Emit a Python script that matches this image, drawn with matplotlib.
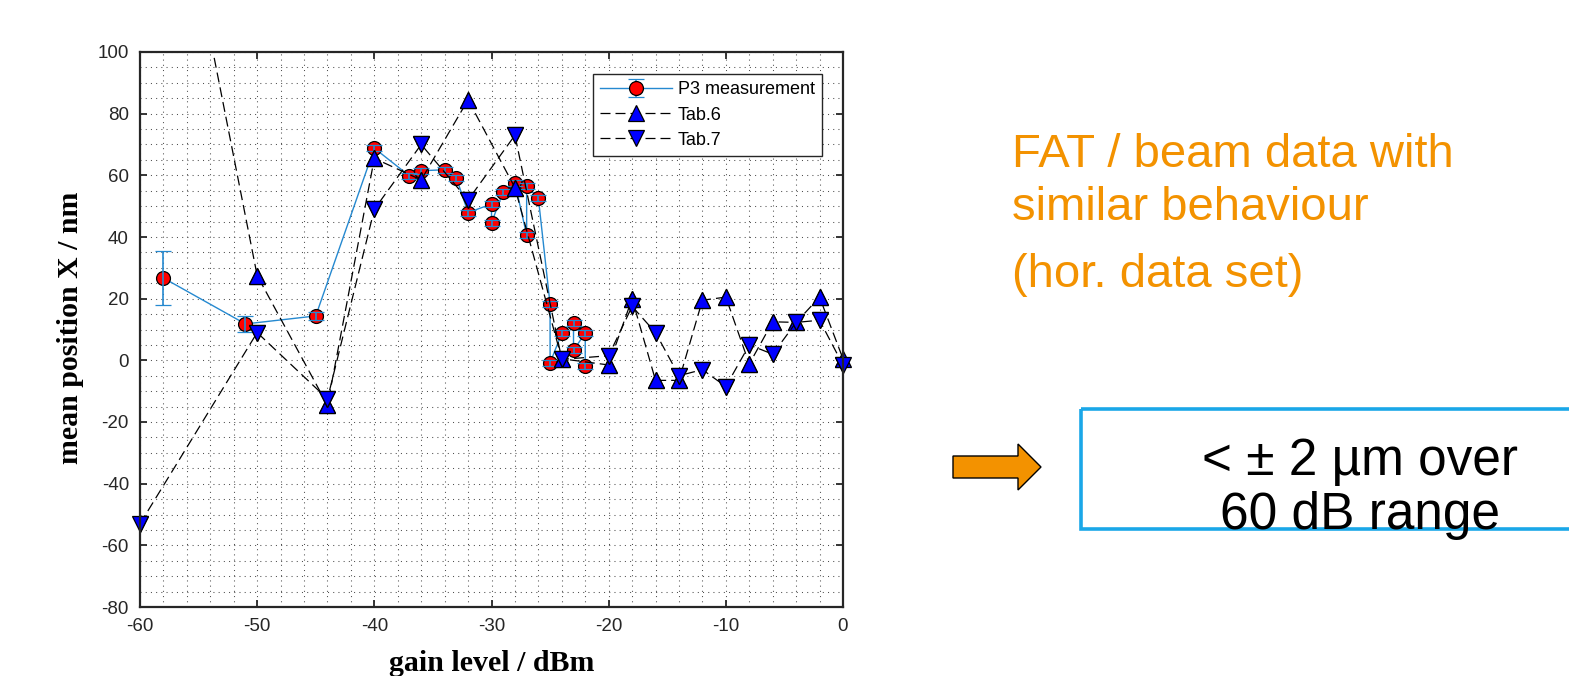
import matplotlib
matplotlib.use('Agg')
import matplotlib.pyplot as plt
from matplotlib.ticker import MultipleLocator
from matplotlib.patches import Polygon, Rectangle

# P3 measurement (gain level / dBm, mean position / nm, error)
p3_x = [-58, -51, -45, -40, -37, -36, -34, -33, -32, -30, -30, -29, -28, -27, -27, -26, -25, -25, -24, -23, -23, -22, -22]
p3_y = [26.7, 11.8, 14.4, 68.8, 59.8, 61.5, 61.8, 59.2, 47.9, 50.7, 44.6, 54.7, 57.5, 40.7, 56.5, 52.6, 18.2, -0.8, 8.8, 12.2, 3.3, 8.8, -1.8]
p3_err = [8.7, 2.7, 1.4, 1.0, 1.0, 1.0, 1.0, 1.0, 1.0, 1.0, 1.0, 1.0, 1.0, 1.0, 1.0, 1.0, 1.0, 1.0, 1.0, 1.0, 1.0, 1.0, 1.0]

# FAT tables
tab_x = [-60, -50, -44, -40, -36, -32, -28, -24, -20, -18, -16, -14, -12, -10, -8, -6, -4, -2, 0]
tab6_y = [220, 27.5, -14.5, 65.5, 58.5, 84.5, 56, 0.5, -1.5, 20, -6.5, -6.5, 19.5, 20.5, -1.2, 12.5, 12.3, 20.5, 0.5]
tab7_y = [-53, 9, -12.5, 49, 70, 52, 73, 0.3, 1.5, 17.5, 9, -5, -3, -8.5, 5, 2, 12.3, 13, -1.5]

xticks = [-60, -50, -40, -30, -20, -10, 0]
yticks = [-80, -60, -40, -20, 0, 20, 40, 60, 80, 100]

plt.rcParams['font.family'] = ['Liberation Sans', 'DejaVu Sans']
plt.rcParams['axes.unicode_minus'] = False

fig = plt.figure(figsize=(15.69, 6.76), dpi=100)
ax = fig.add_axes([140/1569, 1-607/676, 703/1569, 555/676])

blue_line = '#2589d0'
eb = ax.errorbar(p3_x, p3_y, yerr=p3_err, color=blue_line, lw=1, marker='o', ms=10,
                 mfc='red', mec='black', mew=0.9, ecolor=blue_line, elinewidth=1.2,
                 capsize=5.5, capthick=1.2, barsabove=True, label='P3 measurement')
handles = [eb]

for ys, m, lab in [(tab6_y, '^', 'Tab.6'), (tab7_y, 'v', 'Tab.7')]:
    ln, = ax.plot(tab_x, ys, ls='--', dashes=(8, 4), color='black', lw=0.9, marker=m, ms=11,
                  mfc='blue', mec='black', mew=0.9, label=lab)
    handles.append(ln)
    ax.plot(tab_x, ys, ls='none', marker=m, ms=11, mfc='blue', mec='black', mew=0.9,
            clip_on=False)

ax.set_xlim(-60, 0)
ax.set_ylim(-80, 100)
ax.set_xticks(xticks)
ax.set_yticks(yticks)
ax.xaxis.set_minor_locator(MultipleLocator(2))
ax.yaxis.set_minor_locator(MultipleLocator(5))
ax.grid(which='both', linestyle=(0, (1, 4)), color='#505050', lw=0.75)
ax.set_axisbelow(True)
ax.tick_params(which='major', direction='in', top=True, right=True, length=5,
               width=1.3, color='#262626', labelsize=13.5, labelcolor='#262626', pad=8)
ax.tick_params(which='minor', length=0)
for s in ax.spines.values():
    s.set_linewidth(1.6)
    s.set_color('#262626')

ax.set_xlabel('gain level / dBm', family='Liberation Serif', fontweight='bold', fontsize=21.5)
ax.set_ylabel('mean position X / nm', family='Liberation Serif', fontweight='bold', fontsize=21.5)
ax.xaxis.set_label_coords(0.5, -0.078)
ax.yaxis.set_label_coords(-0.080, 0.503)

leg = ax.legend(handles=handles, loc='upper right', bbox_to_anchor=(0.970, 0.960),
                borderaxespad=0, fontsize=13, handlelength=4.0, labelspacing=0.45,
                fancybox=False, framealpha=1, edgecolor='#262626', borderpad=0.4,
                handletextpad=0.3)
leg.get_frame().set_linewidth(1.0)

# slide annotations, in pixel coordinates
ov = fig.add_axes([0, 0, 1, 1])
ov.set_xlim(0, 1569)
ov.set_ylim(676, 0)
ov.axis('off')

orange = '#f39200'
ov.text(1012, 167, 'FAT / beam data with', color=orange, fontsize=34, va='baseline')
ov.text(1012, 220, 'similar behaviour', color=orange, fontsize=34, va='baseline')
ov.text(1012, 287, '(hor. data set)', color=orange, fontsize=34, va='baseline')

ov.add_patch(Polygon([[953, 456], [1018, 456], [1018, 444], [1041, 467], [1018, 490],
                      [1018, 478], [953, 478]], closed=True, fc=orange, ec='black', lw=1))
ov.add_patch(Rectangle((1081, 409), 600, 120, fill=False, ec='#1aa7e8', lw=2.6))
ov.text(1360, 475, '< ± 2 µm over', fontsize=37, ha='center', va='baseline')
ov.text(1360, 529, '60 dB range', fontsize=37, ha='center', va='baseline')

fig.savefig('out.png', dpi=100)
